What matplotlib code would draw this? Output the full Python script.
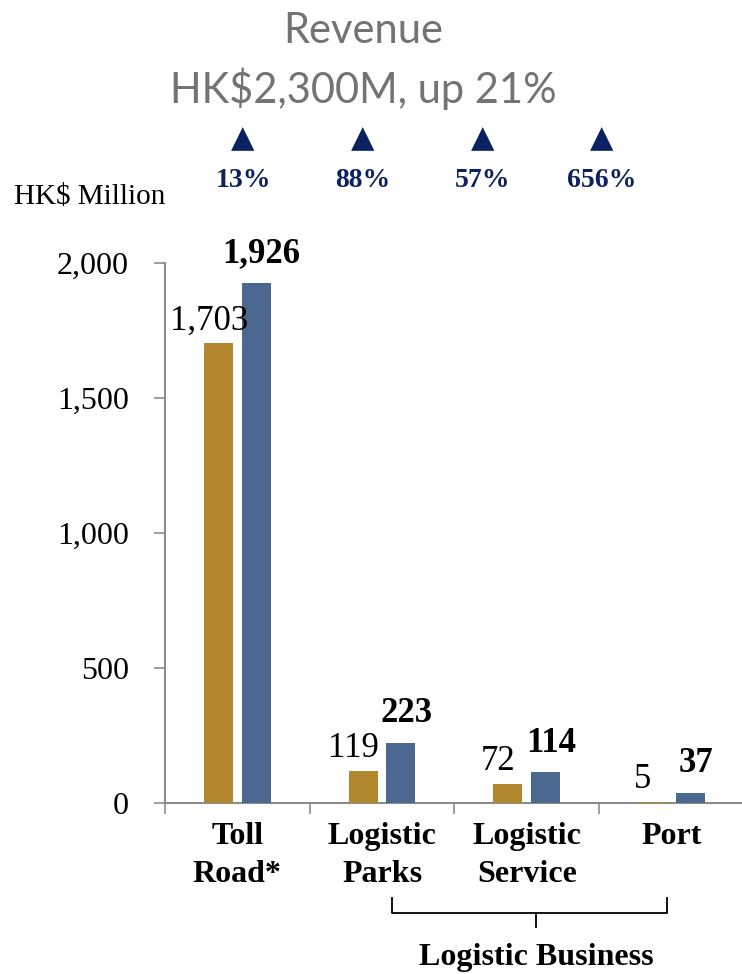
import matplotlib
matplotlib.use("Agg")
import matplotlib.pyplot as plt
import numpy as np

categories = ['Toll\nRoad*', 'Logistic\nParks', 'Logistic\nService', 'Port']
prev_year = [1703, 119, 72, 5]
this_year = [1926, 223, 114, 37]
growth = ['13%', '88%', '57%', '656%']
y_ticks = [0, 500, 1000, 1500, 2000]

gold = '#B3872D'
blue = '#4B6890'
navy = '#0C2260'
grey = '#8C8C8C'

plt.rcParams['font.family'] = ['Liberation Serif', 'DejaVu Serif']

fig = plt.figure(figsize=(7.42, 9.74), dpi=100)
ax = fig.add_axes([0.2224, 0.1756, 0.78, 0.5544])

x = np.arange(len(categories))
w = 0.2
off = 0.13
ax.bar(x - off, prev_year, w, color=gold, zorder=3)
ax.bar(x + off, this_year, w, color=blue, zorder=3)

for xi, v in zip(x, prev_year):
    ax.annotate(f'{v:,}', (xi - off, v), xytext=(-7, 4), textcoords='offset points',
                ha='center', va='bottom', fontsize=25, annotation_clip=False)
for xi, v in zip(x, this_year):
    ax.annotate(f'{v:,}', (xi + off, v), xytext=(4, 9), textcoords='offset points',
                ha='center', va='bottom', fontsize=25, fontweight='bold', annotation_clip=False)

ax.set_xlim(-0.5, 3.5)
ax.set_ylim(0, 2000)
ax.set_yticks(y_ticks)
ax.set_yticklabels([f'{t:,}' for t in y_ticks], fontsize=23)
ax.set_xticks(x)
ax.set_xticklabels(categories, fontsize=23, fontweight='bold', linespacing=1.4)
ax.set_xticks(np.arange(-0.5, 3.5, 1), minor=True)
ax.tick_params(axis='x', which='major', length=0, pad=14)
ax.tick_params(axis='x', which='minor', length=8, color=grey, width=1.2)
ax.tick_params(axis='y', length=8, color=grey, width=1.2, pad=18)
for s in ['top', 'right']:
    ax.spines[s].set_visible(False)
for s in ['left', 'bottom']:
    ax.spines[s].set_color(grey)
    ax.spines[s].set_linewidth(1.5)

# title and growth markers
fig.text(0.49, 0.968, 'Revenue', ha='center', va='center', fontsize=30,
         color='#737373', family=['Lato', 'DejaVu Sans'])
fig.text(0.49, 0.909, 'HK$2,300M, up 21%', ha='center', va='center', fontsize=30,
         color='#737373', family=['Lato', 'DejaVu Sans'])
gx = [0.3275, 0.4892, 0.651, 0.8113]
for px, g in zip(gx, growth):
    fig.text(px, 0.858, '\u25B2', ha='center', va='center', fontsize=22, color=navy,
             family=['DejaVu Sans'])
    fig.text(px, 0.815, g, ha='center', va='center', fontsize=20, color=navy,
             fontweight='bold')

fig.text(0.019, 0.798, 'HK$ Million', ha='left', va='center', fontsize=21)

# bracket under logistic business
bx0, bx1, bxm = 392 / 742, 667 / 742, 536 / 742
by0, by1, by2 = 1 - 898 / 974, 1 - 913 / 974, 1 - 927 / 974
fig.add_artist(plt.Line2D([bx0, bx0, bx1, bx1], [by0, by1, by1, by0], color='black', lw=1.3))
fig.add_artist(plt.Line2D([bxm, bxm], [by1, by2], color='black', lw=1.3))
fig.text(bxm, 1 - 958 / 974, 'Logistic Business', ha='center', va='center',
         fontsize=23, fontweight='bold')

fig.savefig('out.png', dpi=100)
